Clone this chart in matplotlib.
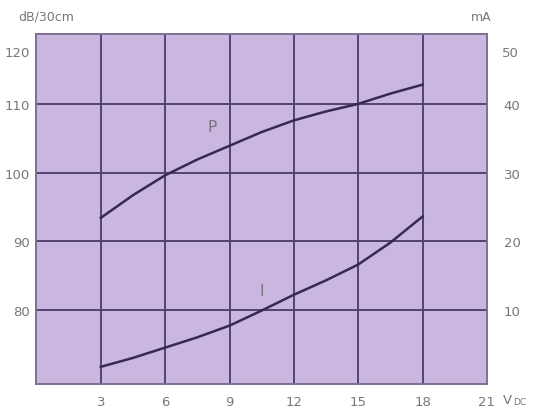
import matplotlib
matplotlib.use("Agg")
import matplotlib.pyplot as plt

# supply voltage (V DC)
volts = [3, 4.5, 6, 7.5, 9, 10.5, 12, 13.5, 15, 16.5, 18]
# sound pressure P (dB/30cm)
pressure = [93.4, 96.7, 99.6, 101.9, 103.9, 105.9, 107.6, 108.9, 110.0, 111.5, 112.8]
# current I (mA)
current = [1.7, 3.0, 4.5, 6.0, 7.7, 9.9, 12.2, 14.3, 16.6, 19.8, 23.6]

x_ticks = [3, 6, 9, 12, 15, 18, 21]
db_ticks = [80, 90, 100, 110]
ma_ticks = [10, 20, 30, 40]
db_top, ma_top = 120, 50

bg = "#c9b7e0"
grid_col = "#524470"
curve_col = "#352a55"
text_col = "#777777"

fig = plt.figure(figsize=(5.36, 4.10), dpi=100)
ax = fig.add_axes([0.068, 0.061, 0.8405, 0.854])
ax.set_facecolor(bg)
ax.set_xlim(0, 21)
ax.set_ylim(69.2, 120.2)

# grid
for x in x_ticks[:-1]:
    ax.axvline(x, color=grid_col, lw=1.4, zorder=1)
for y in db_ticks:
    ax.axhline(y, color=grid_col, lw=1.4, zorder=1)

ax.plot(volts, pressure, color=curve_col, lw=1.8, zorder=3)

ax2 = ax.twinx()
ax2.set_ylim(69.2 - 70, 120.2 - 70)
ax2.plot(volts, current, color=curve_col, lw=1.8, zorder=3)

ax.text(8.2, 106.7, "P", color=text_col, fontsize=11, ha="center", va="center")
ax.text(10.5, 82.8, "I", color=text_col, fontsize=11, ha="center", va="center")

for a in (ax, ax2):
    for s in a.spines.values():
        s.set_color("#7d6f92")
        s.set_linewidth(1.2)
    a.tick_params(length=0, colors=text_col, labelsize=9.5)

ax.set_xticks(x_ticks)
ax.set_yticks(db_ticks)
ax2.set_yticks(ma_ticks)
ax.tick_params(axis="x", pad=8)
ax.tick_params(axis="y", pad=5)
ax2.tick_params(axis="y", pad=12)

# top labels sit a little below the frame in the original
ax.text(-0.014, 0.965, str(db_top), transform=ax.transAxes, color=text_col,
        fontsize=9.5, ha="right", va="top")
ax2.text(1.033, 0.965, str(ma_top), transform=ax2.transAxes, color=text_col,
         fontsize=9.5, ha="left", va="top")

fig.text(0.034, 0.958, "dB/30cm", color=text_col, fontsize=9, ha="left", va="center")
fig.text(0.878, 0.958, "mA", color=text_col, fontsize=9, ha="left", va="center")
fig.text(0.938, 0.022, "V", color=text_col, fontsize=9.5, ha="left", va="center")
fig.text(0.958, 0.018, "DC", color=text_col, fontsize=6.5, ha="left", va="center")

fig.savefig("out.png", dpi=100)
